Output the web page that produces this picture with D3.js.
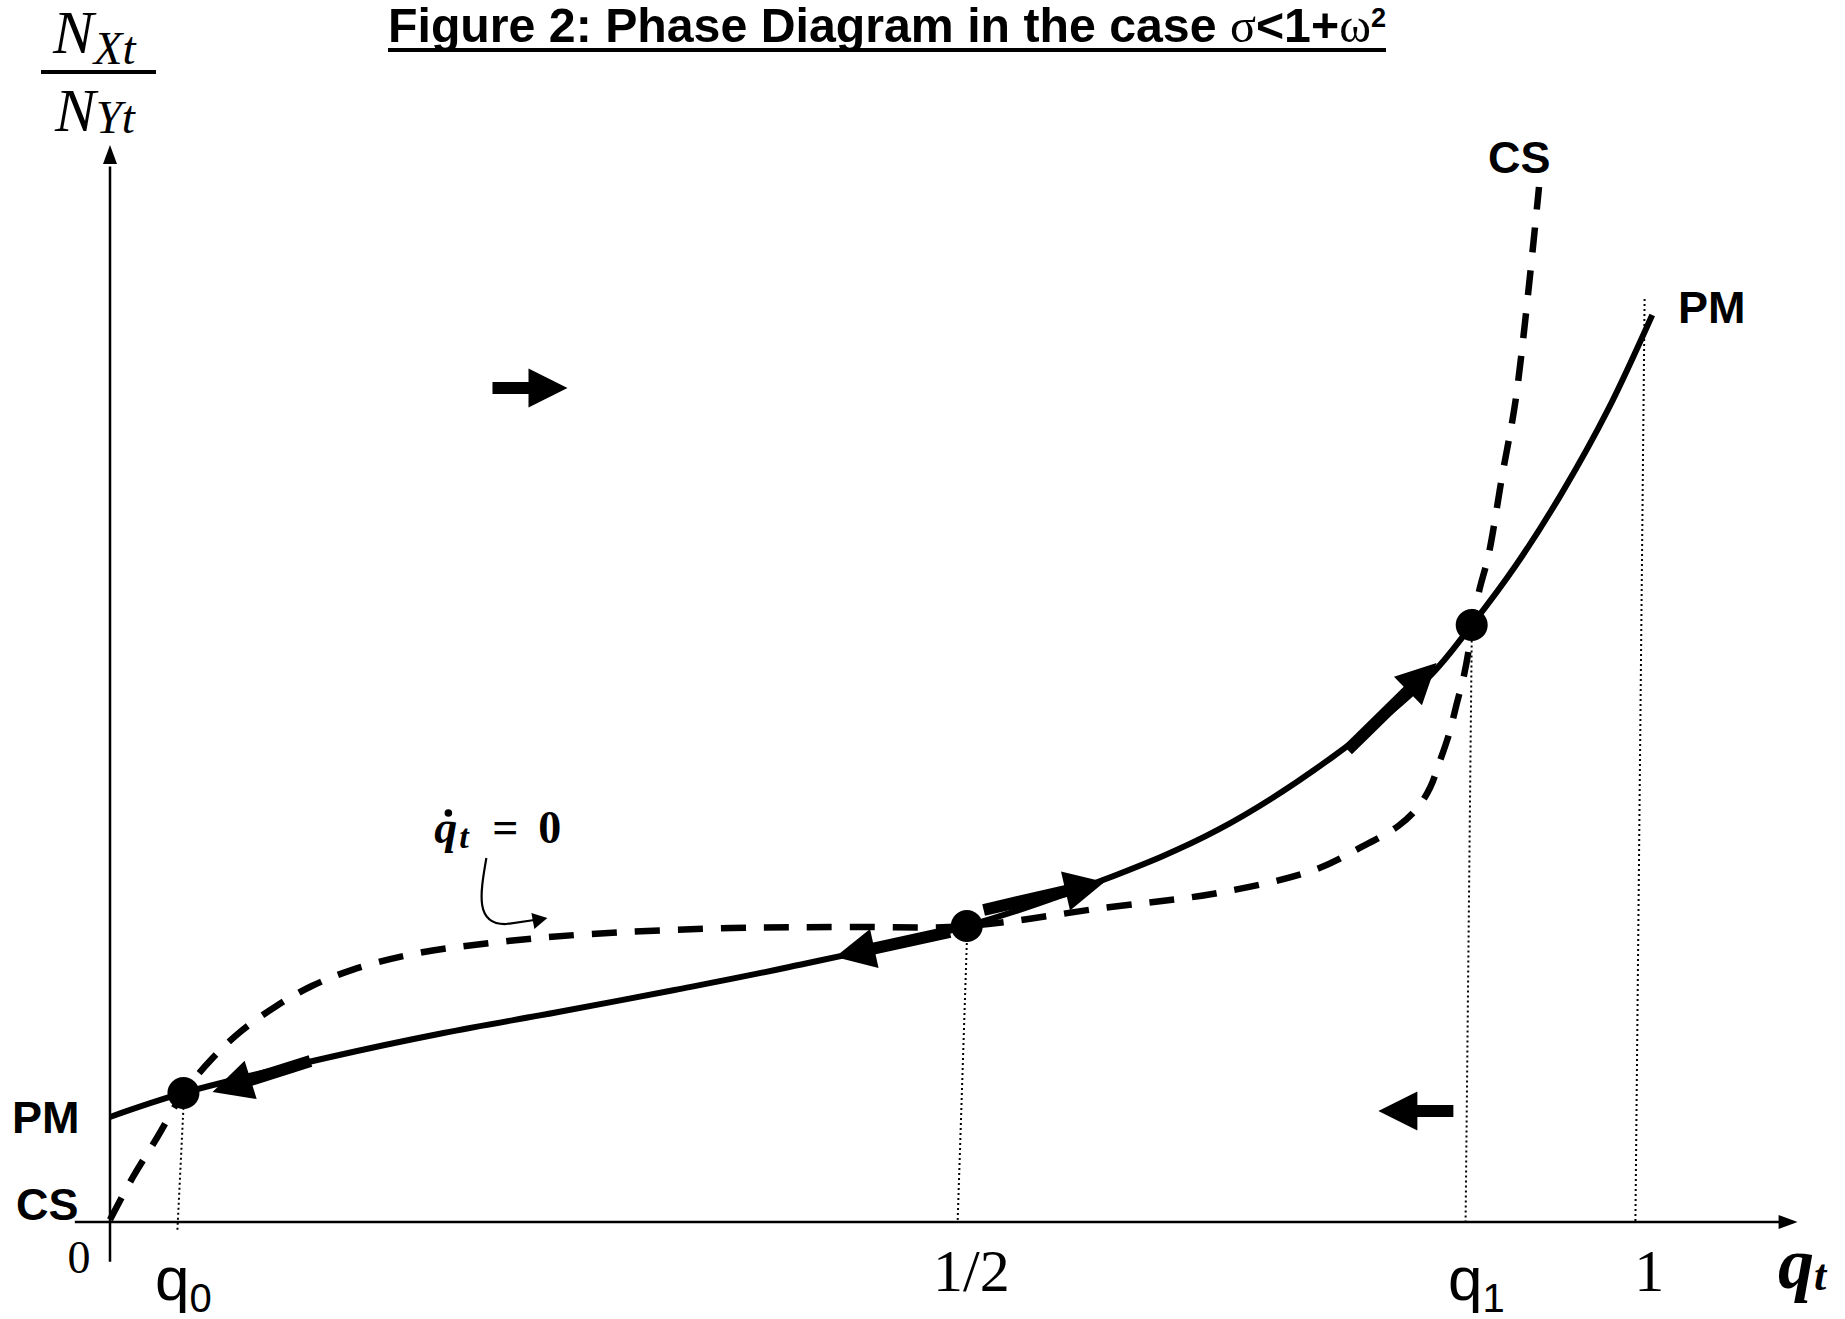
<!DOCTYPE html>
<html>
<head>
<meta charset="utf-8">
<script src="https://cdn.jsdelivr.net/npm/d3@7"></script>
<style>
  body { margin: 0; background: #fff; }
  text { fill: #000; }
</style>
</head>
<body>
<svg id="chart" width="1845" height="1319"></svg>
<script>
// x = q_t (0..1), y = N_Xt/N_Yt in arbitrary units (0..100)
var pmQ = [0, 0.048, 0.144, 0.218, 0.293, 0.369, 0.444, 0.560, 0.649, 0.724, 0.799, 0.862, 0.890, 0.919, 0.949, 0.979, 1.008];
var pmV = [9.75, 11.98, 15.32, 17.55, 19.50, 21.54, 23.68, 27.48, 31.75, 36.40, 43.18, 50.60, 55.43, 61.0, 67.7, 75.4, 84.22];

var csQ = [0, 0.015, 0.031, 0.048, 0.0665, 0.0858, 0.1088, 0.1319, 0.1588, 0.1973, 0.2511, 0.3127,
           0.406, 0.481, 0.560, 0.649, 0.724, 0.787, 0.818, 0.842, 0.855, 0.863, 0.869, 0.875, 0.880,
           0.885, 0.888, 0.890, 0.895, 0.901, 0.910, 0.919, 0.934];
var csV = [0.2, 4.18, 7.89, 11.98, 15.13, 17.73, 20.06, 21.91, 23.44, 24.86, 25.95, 26.73,
           27.30, 27.39, 27.48, 29.16, 30.55, 32.68, 34.82, 36.77, 38.53, 40.39, 42.71, 45.22, 48.00,
           50.79, 53.11, 55.43, 58.68, 61.93, 69.36, 76.60, 96.10];

// steady states (q0, 1/2, q1)
var eqQ = [0.048, 0.560, 0.890];
var eqV = [11.98, 27.48, 55.43];

// x-axis tick labels
var tickQ = [0.048, 0.563, 0.893, 1.006];
var tickLabel = ["q0", "1/2", "q1", "1"];

// dotted guides: top point and foot on the axis
var guideTopQ = [0.048, 0.560, 0.890, 1.003];
var guideTopV = [10.6, 25.9, 54.0, 85.7];
var guideBotQ = [0.044, 0.554, 0.886, 0.997];
var guideBotV = [-0.93, 0, 0, 0];

// thick flow arrows on PM: tail -> tip
var flowFromQ = [0.131, 0.549, 0.571, 0.809];
var flowFromV = [14.95, 26.93, 28.97, 43.83];
var flowToQ   = [0.067, 0.474, 0.650, 0.867];
var flowToV   = [12.07, 24.61, 31.57, 51.90];

// block arrows showing the motion of q in each region (tip, direction)
var motionQ = [0.299, 0.829];
var motionV = [77.44, 10.31];
var motionDir = [1, -1];

var svg = d3.select("#chart");
var serif = "'Liberation Serif','Times New Roman',serif";
var sans = "'Liberation Sans',Arial,sans-serif";

var x = d3.scaleLinear().domain([0, 1]).range([110, 1640]);
var y = d3.scaleLinear().domain([0, 100]).range([1222, 145]);

// arrow helper: shaft line + triangular head, all in pixels
function arrow(g, x0, y0, x1, y1, w, L, H) {
  var dx = x1 - x0, dy = y1 - y0, len = Math.sqrt(dx * dx + dy * dy);
  var ux = dx / len, uy = dy / len, nx = -uy, ny = ux;
  var bx = x1 - L * ux, by = y1 - L * uy;
  g.append("line")
    .attr("x1", x0).attr("y1", y0).attr("x2", bx + ux).attr("y2", by + uy)
    .attr("stroke", "#000").attr("stroke-width", w);
  g.append("polygon")
    .attr("points", [[x1, y1], [bx + H * nx, by + H * ny], [bx - H * nx, by - H * ny]].join(" "))
    .attr("fill", "#000");
}

// title
var title = svg.append("text")
  .attr("x", 887).attr("y", 42)
  .attr("text-anchor", "middle")
  .attr("font-family", sans).attr("font-weight", "bold").attr("font-size", 48)
  .attr("textLength", 998).attr("lengthAdjust", "spacingAndGlyphs");
title.append("tspan").text("Figure 2: Phase Diagram in the case ");
title.append("tspan").attr("font-family", serif).attr("font-weight", "normal").text("σ");
title.append("tspan").text("<1+");
title.append("tspan").attr("font-family", serif).attr("font-weight", "normal").text("ω");
title.append("tspan").attr("font-size", 27).attr("dy", -15).text("2");
svg.append("line")
  .attr("x1", 388).attr("x2", 1386).attr("y1", 50).attr("y2", 50)
  .attr("stroke", "#000").attr("stroke-width", 4);

// axes
var axes = svg.append("g");
axes.append("line")
  .attr("x1", x(0)).attr("x2", x(0)).attr("y1", y(-3.7)).attr("y2", y(98))
  .attr("stroke", "#000").attr("stroke-width", 2.5);
axes.append("polygon")
  .attr("points", [[x(0), y(100)], [x(0) - 7, y(100) + 19], [x(0) + 7, y(100) + 19]].join(" "));
axes.append("line")
  .attr("x1", x(-0.023)).attr("x2", x(1.1)).attr("y1", y(0)).attr("y2", y(0))
  .attr("stroke", "#000").attr("stroke-width", 2.5);
axes.append("polygon")
  .attr("points", [[x(1.103), y(0)], [x(1.103) - 19, y(0) - 7], [x(1.103) - 19, y(0) + 7]].join(" "));

// y label N_Xt / N_Yt
var yl = svg.append("g").attr("font-family", serif).attr("font-style", "italic");
var t1 = yl.append("text").attr("x", 53).attr("y", 53).attr("font-size", 61);
t1.append("tspan").text("N");
t1.append("tspan").attr("font-size", 47).attr("dy", 11).text("Xt");
yl.append("line").attr("x1", 41).attr("x2", 156).attr("y1", 72).attr("y2", 72)
  .attr("stroke", "#000").attr("stroke-width", 4);
var t2 = yl.append("text").attr("x", 55).attr("y", 131).attr("font-size", 61);
t2.append("tspan").text("N");
t2.append("tspan").attr("font-size", 47).attr("dy", 2).text("Yt");

// dotted guides
svg.append("g").selectAll("line")
  .data(guideTopQ)
  .enter().append("line")
  .attr("x1", function(d, i) { return x(d); })
  .attr("y1", function(d, i) { return y(guideTopV[i]); })
  .attr("x2", function(d, i) { return x(guideBotQ[i]); })
  .attr("y2", function(d, i) { return y(guideBotV[i]); })
  .attr("stroke", "#000").attr("stroke-width", 2).attr("stroke-dasharray", "2,3");

var line = d3.line()
  .x(function(d) { return x(d[0]); })
  .y(function(d) { return y(d[1]); })
  .curve(d3.curveCatmullRom.alpha(0.5));

// CS curve (dashed)
svg.append("path")
  .datum(d3.zip(csQ, csV))
  .attr("d", line)
  .attr("fill", "none").attr("stroke", "#000")
  .attr("stroke-width", 6.5).attr("stroke-dasharray", "25,18");

// PM curve (solid)
svg.append("path")
  .datum(d3.zip(pmQ, pmV))
  .attr("d", line)
  .attr("fill", "none").attr("stroke", "#000").attr("stroke-width", 6);

// flow arrows on PM
var flows = svg.append("g");
flowFromQ.forEach(function(q, i) {
  arrow(flows, x(q), y(flowFromV[i]), x(flowToQ[i]), y(flowToV[i]), 12, 40, 20);
});

// steady state dots
svg.append("g").selectAll("circle")
  .data(eqQ)
  .enter().append("circle")
  .attr("cx", function(d) { return x(d); })
  .attr("cy", function(d, i) { return y(eqV[i]); })
  .attr("r", 16).attr("fill", "#000");

// motion arrows
var motion = svg.append("g");
motionQ.forEach(function(q, i) {
  var tx = x(q), ty = y(motionV[i]);
  arrow(motion, tx - motionDir[i] * 75, ty, tx, ty, 12, 39, 19.5);
});

// curve labels
var lab = svg.append("g").attr("font-family", sans).attr("font-weight", "bold").attr("font-size", 45);
lab.append("text").attr("x", 1488).attr("y", 173).text("CS");
lab.append("text").attr("x", 1678).attr("y", 323).text("PM");
lab.append("text").attr("x", 12).attr("y", 1133).text("PM");
lab.append("text").attr("x", 16).attr("y", 1220).text("CS");

// origin
svg.append("text").attr("x", x(0) - 31).attr("y", 1273)
  .attr("text-anchor", "middle").attr("font-family", serif).attr("font-size", 46).text("0");

// tick labels
var ticks = svg.append("g");
tickQ.forEach(function(q, i) {
  var s = tickLabel[i];
  if (s.charAt(0) === "q") {
    var t = ticks.append("text").attr("x", x(q)).attr("y", 1300)
      .attr("text-anchor", "middle").attr("font-family", sans).attr("font-size", 62);
    t.append("tspan").text("q");
    t.append("tspan").attr("font-size", 40).attr("dy", 12).text(s.charAt(1));
  } else {
    ticks.append("text").attr("x", x(q)).attr("y", 1291)
      .attr("text-anchor", "middle").attr("font-family", serif).attr("font-size", 60).text(s);
  }
});

// q_t axis name
var qt = svg.append("text").attr("x", 1778).attr("y", 1288)
  .attr("font-family", serif).attr("font-style", "italic").attr("font-weight", "bold").attr("font-size", 72);
qt.append("tspan").text("q");
qt.append("tspan").attr("font-size", 44).attr("dy", 2).text("t");

// q-dot = 0 annotation with curved pointer
var ax = x(0.212), ay = y(35.19);
var ann = svg.append("g").attr("font-family", serif).attr("font-weight", "bold");
ann.append("text").attr("x", ax).attr("y", ay).attr("font-size", 46)
  .attr("font-style", "italic").text("q");
ann.append("text").attr("x", ax + 25).attr("y", ay + 5).attr("font-size", 34)
  .attr("font-style", "italic").text("t");
ann.append("text").attr("x", ax + 58).attr("y", ay).attr("font-size", 46).text("=");
ann.append("text").attr("x", ax + 104).attr("y", ay).attr("font-size", 46).text("0");
ann.append("circle").attr("cx", ax + 14).attr("cy", ay - 30).attr("r", 3.8).attr("fill", "#000");

var p = d3.path();
p.moveTo(ax + 52, ay + 15);
p.bezierCurveTo(ax + 46, ay + 50, ax + 40, ay + 82, ax + 72, ay + 81);
p.lineTo(ax + 100, ay + 77);
ann.append("path").attr("d", p.toString())
  .attr("fill", "none").attr("stroke", "#000").attr("stroke-width", 2.2);
ann.append("polygon")
  .attr("points", [[ax + 113, ay + 75], [ax + 97, ay + 70], [ax + 100, ay + 86]].join(" "))
  .attr("fill", "#000");
</script>
</body>
</html>
